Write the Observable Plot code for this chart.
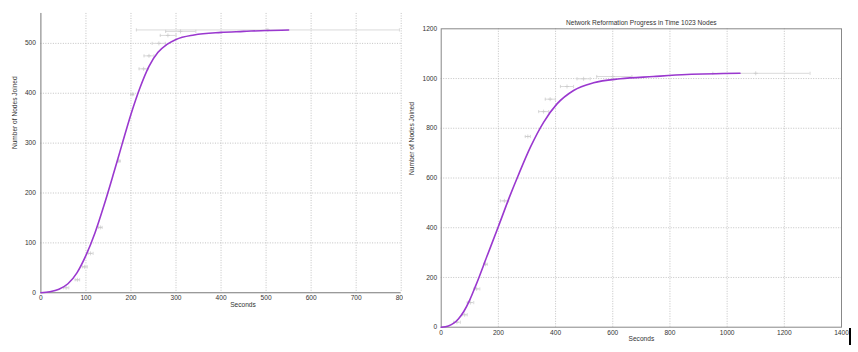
<!DOCTYPE html>
<html>
<head>
<meta charset="utf-8">
<script src="https://cdn.jsdelivr.net/npm/d3@7"></script>
<script src="https://cdn.jsdelivr.net/npm/@observablehq/plot@0.6"></script>
<style>
  html, body { margin: 0; padding: 0; background: #fff; width: 858px; height: 352px; overflow: hidden; }
  #left { position: absolute; left: 0; top: 0; width: 403px; height: 352px; overflow: hidden; }
  #right { position: absolute; left: 403px; top: 0; width: 455px; height: 352px; }
  #cursor { position: absolute; left: 849px; top: 328px; width: 2px; height: 17px; background: #000; }
  svg { font-family: "Liberation Sans", Arial, sans-serif; }
</style>
</head>
<body>
<div id="left"></div>
<div id="right"></div>
<div id="cursor"></div>
<script>
// ---------- Left chart (partially cropped) ----------
const leftCurveSec   = [0, 20, 40, 60, 80, 100, 120, 140, 160, 180, 200, 220, 240, 260, 280, 300, 340, 400, 450, 500, 550];
const leftCurveNodes = [0, 2, 7, 18, 40, 75, 120, 175, 235, 297, 358, 411, 454, 482, 498, 508, 517, 522, 524, 526, 527];
const leftErrNodes = [10, 26, 52, 79, 131, 264, 398, 449, 475, 500, 516, 524, 527];
const leftErrSec   = [56, 81, 97, 110, 132, 173, 203, 228, 240, 262, 282, 310, 504];
const leftErrLo    = [50, 76, 92, 105, 128, 170, 199, 218, 229, 247, 265, 277, 212];
const leftErrHi    = [62, 86, 103, 116, 136, 176, 206, 238, 251, 276, 300, 344, 796];
const leftXTicks = [0, 100, 200, 300, 400, 500, 600, 700, 800];
const leftYTicks = [0, 100, 200, 300, 400, 500];

// ---------- Right chart ----------
const rightTitle = "Network Reformation Progress in Time 1023 Nodes";
const rightCurveSec   = [0, 25, 44, 60, 79, 100, 120, 160, 200, 240, 270, 312, 358, 405, 463, 533, 626, 742, 859, 1045];
const rightCurveNodes = [0, 5, 16, 33, 63, 110, 165, 285, 405, 527, 612, 724, 824, 898, 952, 983, 999, 1008, 1016, 1021];
const rightErrNodes = [20, 50, 99, 154, 253, 508, 767, 867, 917, 968, 999, 1008, 1021];
const rightErrSec   = [55, 82, 102, 124, 155, 221, 303, 358, 381, 440, 498, 600, 1100];
const rightErrLo    = [44, 73, 91, 114, 149, 207, 294, 341, 364, 417, 475, 544, 950];
const rightErrHi    = [67, 91, 114, 135, 161, 236, 312, 376, 399, 463, 521, 667, 1290];
const rightXTicks = [0, 200, 400, 600, 800, 1000, 1200, 1400];
const rightYTicks = [0, 200, 400, 600, 800, 1000, 1200];

const xLabel = "Seconds";
const yLabel = "Number of Nodes Joined";

const curveColor = "#9a38cf";
const errColor = "#dadada";
const gridColor = "#b4b4b4";
const textColor = "#333";
const fs = 6.6;
const fmt = d3.format("d");

const capSymbol = {
  draw(context, size) {
    const h = Math.sqrt(size) / 2;
    context.moveTo(0, -h);
    context.lineTo(0, h);
  }
};

function zipCurve(xs, ys) { return xs.map((x, i) => ({x, y: ys[i]})); }
function zipErr(ys, xs, lo, hi) { return ys.map((y, i) => ({y, x: xs[i], lo: lo[i], hi: hi[i]})); }

function errMarks(err) {
  return [
    Plot.ruleY(err, {y: "y", x1: "lo", x2: "hi", stroke: errColor, strokeWidth: 1}),
    Plot.dot(err, {x: "lo", y: "y", symbol: capSymbol, r: 1.8, fill: "none", stroke: "#cfcfcf", strokeWidth: 0.8}),
    Plot.dot(err, {x: "hi", y: "y", symbol: capSymbol, r: 1.8, fill: "none", stroke: "#cfcfcf", strokeWidth: 0.8}),
    Plot.dot(err, {x: "x", y: "y", symbol: "plus", r: 1.4, fill: "none", stroke: "#c8c8c8", strokeWidth: 0.7})
  ];
}

// Left plot
const leftCurve = zipCurve(leftCurveSec, leftCurveNodes);
const leftErr = zipErr(leftErrNodes, leftErrSec, leftErrLo, leftErrHi);
const leftPlot = Plot.plot({
  width: 404, height: 323,
  marginLeft: 40.5, marginRight: 2.3, marginTop: 13, marginBottom: 30,
  x: {domain: [0, 800]},
  y: {domain: [0, 560]},
  style: {fontSize: fs + "px", color: textColor, background: "#fff"},
  marks: [
    Plot.gridX(leftXTicks.filter(t => t > 0), {stroke: gridColor, strokeOpacity: 1, strokeDasharray: "1,1.5", strokeWidth: 0.8}),
    Plot.gridY(leftYTicks.filter(t => t > 0), {stroke: gridColor, strokeOpacity: 1, strokeDasharray: "1,1.5", strokeWidth: 0.8}),
    ...errMarks(leftErr),
    Plot.ruleX([0], {stroke: "#777", strokeWidth: 1}),
    Plot.ruleY([0], {stroke: "#777", strokeWidth: 1}),
    Plot.line(leftCurve, {x: "x", y: "y", stroke: curveColor, strokeWidth: 1.6, curve: "monotone-x"}),
    Plot.axisX(leftXTicks, {tickSize: 0, tickPadding: 3, label: null, tickFormat: fmt, fontSize: fs, fill: textColor}),
    Plot.axisY(leftYTicks, {tickSize: 0, tickPadding: 5, label: null, tickFormat: fmt, fontSize: fs, fill: textColor}),
    Plot.text([xLabel], {frameAnchor: "bottom", dy: 14, dx: 22, fontSize: fs, fill: textColor}),
    Plot.text([yLabel], {frameAnchor: "left", dx: -26.5, dy: -4, rotate: -90, fontSize: fs, fill: textColor})
  ]
});
document.getElementById("left").appendChild(leftPlot);

// Right plot
const rightCurve = zipCurve(rightCurveSec, rightCurveNodes);
const rightErr = zipErr(rightErrNodes, rightErrSec, rightErrLo, rightErrHi);
const rightPlot = Plot.plot({
  width: 455, height: 352,
  marginLeft: 37.7, marginRight: 17, marginTop: 28.3, marginBottom: 25.3,
  x: {domain: [0, 1400]},
  y: {domain: [0, 1200]},
  style: {fontSize: fs + "px", color: textColor, background: "#fff"},
  marks: [
    Plot.gridX(rightXTicks.filter(t => t > 0 && t < 1400), {stroke: gridColor, strokeOpacity: 1, strokeDasharray: "1,1.5", strokeWidth: 0.8}),
    Plot.gridY(rightYTicks.filter(t => t > 0 && t < 1200), {stroke: gridColor, strokeOpacity: 1, strokeDasharray: "1,1.5", strokeWidth: 0.8}),
    ...errMarks(rightErr),
    Plot.frame({stroke: "#888", strokeWidth: 1}),
    Plot.line(rightCurve, {x: "x", y: "y", stroke: curveColor, strokeWidth: 1.6, curve: "monotone-x"}),
    Plot.axisX(rightXTicks, {tickSize: 0, tickPadding: 3, label: null, tickFormat: fmt, fontSize: fs, fill: textColor}),
    Plot.axisY(rightYTicks, {tickSize: 0, tickPadding: 4, label: null, tickFormat: fmt, fontSize: fs, fill: textColor}),
    Plot.text([xLabel], {frameAnchor: "bottom", dy: 14, fontSize: fs, fill: textColor}),
    Plot.text([yLabel], {frameAnchor: "left", dx: -29.7, dy: -3, rotate: -90, fontSize: fs, fill: textColor}),
    Plot.text([rightTitle], {frameAnchor: "top", dy: -8.5, fontSize: fs, fill: textColor})
  ]
});
document.getElementById("right").appendChild(rightPlot);
</script>
</body>
</html>
